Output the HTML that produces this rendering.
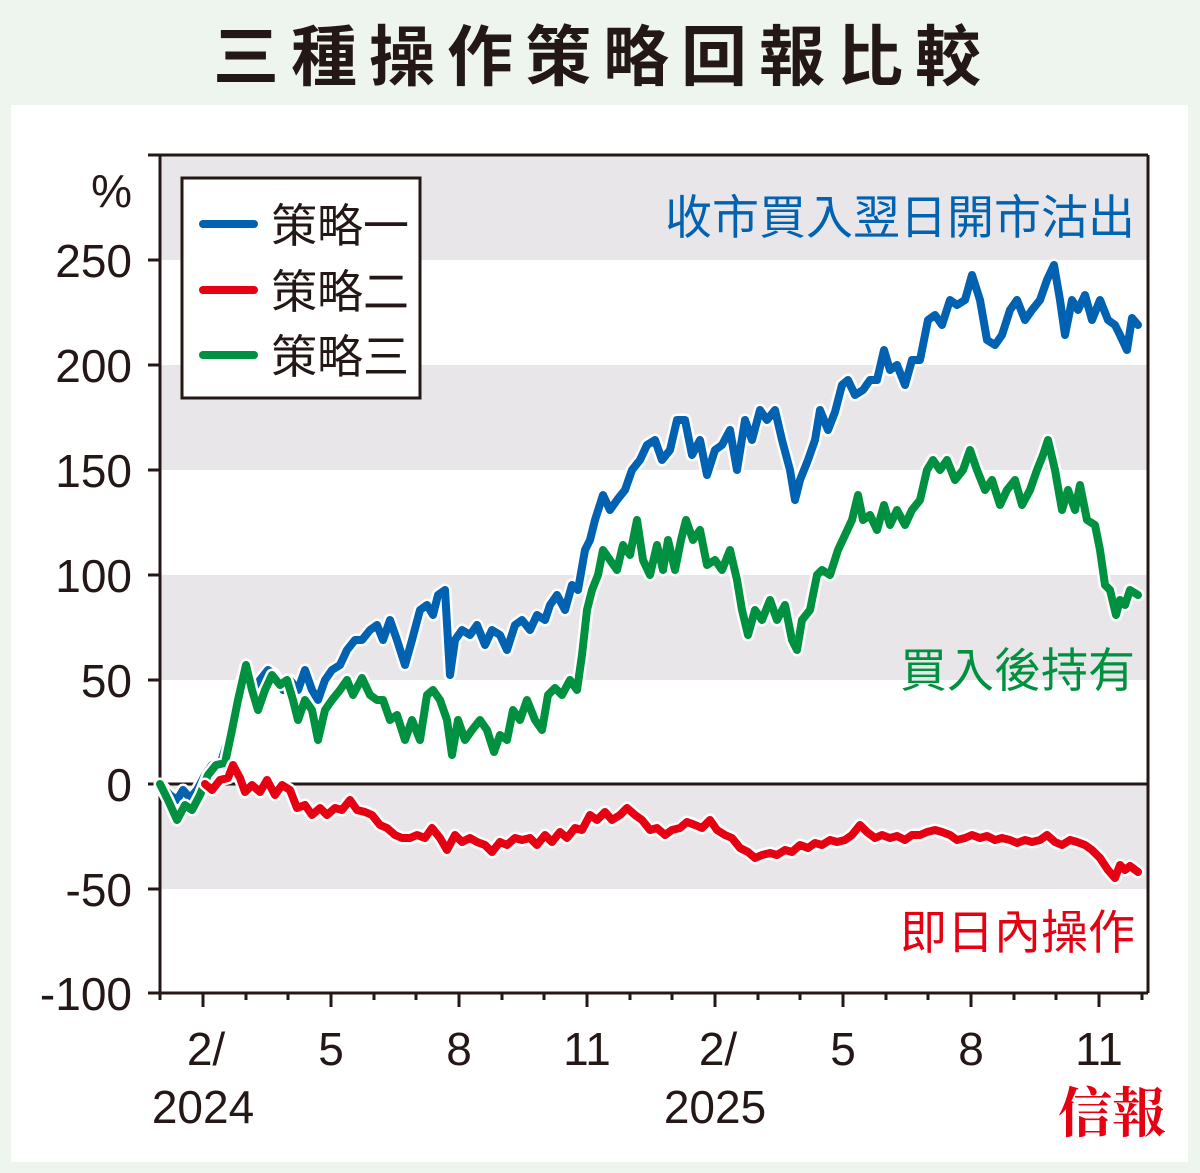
<!DOCTYPE html>
<html><head><meta charset="utf-8"><style>
body{margin:0;background:#eef4ee;}
svg{display:block}
</style></head><body>
<svg width="1200" height="1173" viewBox="0 0 1200 1173" xmlns="http://www.w3.org/2000/svg">
<rect x="0" y="0" width="1200" height="1173" fill="#eef4ee"/>
<rect x="11" y="105" width="1177" height="1057" fill="#fff"/>
<text x="603" y="80" text-anchor="middle" font-family="Liberation Sans, Noto Sans CJK TC, sans-serif" font-size="66" font-weight="bold" letter-spacing="12" fill="#231815">三種操作策略回報比較</text>
<g fill="#e8e6e8">
<rect x="160" y="155" width="988" height="105"/>
<rect x="160" y="365" width="988" height="105"/>
<rect x="160" y="575" width="988" height="105"/>
<rect x="160" y="784" width="988" height="105"/>
</g>
<g stroke="#231815" stroke-width="3" fill="none">
<line x1="148" y1="155" x2="1148" y2="155"/>
<line x1="160" y1="155" x2="160" y2="993"/>
<line x1="1148" y1="155" x2="1148" y2="993"/>
<line x1="148" y1="993" x2="1148" y2="993"/>
<line x1="160" y1="784" x2="1148" y2="784"/>
<line x1="148" y1="260" x2="160" y2="260"/><line x1="148" y1="365" x2="160" y2="365"/><line x1="148" y1="470" x2="160" y2="470"/><line x1="148" y1="575" x2="160" y2="575"/><line x1="148" y1="680" x2="160" y2="680"/><line x1="148" y1="784" x2="160" y2="784"/><line x1="148" y1="889" x2="160" y2="889"/>
<path d="M160 993v7M203 993v14M246 993v7M288 993v7M331 993v14M374 993v7M416 993v7M459 993v14M502 993v7M544 993v7M587 993v14M630 993v7M672 993v7M715 993v14M758 993v7M800 993v7M843 993v14M886 993v7M928 993v7M971 993v14M1014 993v7M1056 993v7M1099 993v14M1142 993v7"/>
</g>
<g font-family="Liberation Sans, sans-serif" font-size="46" fill="#231815" text-anchor="end">
<text x="132" y="207">%</text>
<text x="132" y="277">250</text><text x="132" y="382">200</text><text x="132" y="487">150</text><text x="132" y="592">100</text><text x="132" y="697">50</text><text x="132" y="801">0</text><text x="132" y="906">-50</text><text x="132" y="1010">-100</text>
</g>
<g font-family="Liberation Sans, sans-serif" font-size="46" fill="#231815" text-anchor="middle">
<text x="206" y="1065">2/</text><text x="331" y="1065">5</text><text x="459" y="1065">8</text><text x="587" y="1065">11</text><text x="718" y="1065">2/</text><text x="843" y="1065">5</text><text x="971" y="1065">8</text><text x="1099" y="1065">11</text>
<text x="203" y="1123">2024</text><text x="715" y="1123">2025</text>
</g>
<defs>
<polyline id="b" points="160,784 170,795 177,800 183,790 190,798 197,790 205,775 212,765 220,765 228,740 236,700 245,670 252,690 260,680 268,670 275,675 283,690 290,680 298,690 305,670 312,690 318,700 325,680 332,670 340,665 347,650 355,640 362,640 370,630 377,625 383,640 390,620 397,640 405,665 412,640 420,610 427,605 433,615 438,595 445,590 450,675 455,640 462,630 470,635 477,625 485,645 492,630 500,635 507,650 515,625 522,620 530,630 537,615 545,620 550,605 557,595 565,610 572,585 578,590 585,550 590,540 595,520 603,495 610,510 617,500 625,490 632,470 640,460 647,445 655,440 662,460 670,450 677,420 685,420 692,455 700,440 707,475 715,450 722,445 730,430 737,470 745,420 752,440 760,410 767,420 775,410 782,440 790,470 795,500 800,480 808,460 815,440 820,410 828,430 835,412 842,385 848,380 855,395 863,390 870,380 877,380 884,350 890,370 897,365 905,385 912,360 920,360 928,320 935,315 942,325 950,300 957,305 965,300 972,275 980,300 987,340 995,345 1002,335 1010,310 1017,300 1025,320 1032,310 1040,300 1047,280 1054,265 1060,300 1065,335 1072,300 1078,310 1085,295 1092,320 1100,300 1108,320 1115,325 1120,335 1127,350 1132,318 1138,325"/>
<polyline id="g" points="160,784 168,800 177,820 185,805 192,810 200,795 208,775 216,765 225,763 232,730 238,700 246,665 252,690 258,710 265,690 272,675 280,685 287,680 293,700 298,720 305,700 312,710 318,740 325,710 332,700 340,690 347,680 353,695 362,678 370,695 377,700 383,700 390,720 397,715 405,740 412,720 420,740 427,695 433,690 440,700 447,720 452,755 458,720 465,740 472,730 480,720 487,730 494,752 500,735 507,740 513,710 520,720 527,700 535,720 542,730 548,695 555,688 562,695 570,680 577,690 582,655 587,610 592,590 598,575 603,550 610,560 617,570 623,545 630,555 637,520 643,560 650,575 657,545 663,570 668,540 675,570 681,540 686,520 693,540 700,530 707,565 715,560 722,570 730,550 737,580 742,610 748,635 755,610 762,620 770,600 777,620 785,605 792,640 797,650 802,620 810,610 817,575 822,570 830,575 838,550 845,535 852,520 858,495 863,520 870,515 877,530 884,505 890,525 897,510 905,525 912,510 920,500 927,470 933,460 940,470 947,460 955,480 963,470 970,450 977,470 985,490 992,480 1000,505 1007,490 1015,480 1022,505 1030,490 1037,470 1043,455 1048,440 1055,470 1062,510 1068,490 1075,510 1080,485 1087,520 1095,525 1100,550 1105,585 1110,590 1116,615 1120,600 1125,605 1130,590 1138,595"/>
<polyline id="r" points="205,784 212,790 220,780 228,778 233,765 240,778 245,792 252,785 260,792 267,780 275,795 282,785 290,790 297,808 305,805 312,815 320,808 327,815 335,808 342,810 350,800 357,810 365,812 372,815 380,825 387,828 395,835 402,838 410,838 417,835 425,838 432,828 440,838 447,850 455,835 462,842 470,838 477,842 485,845 492,852 500,842 507,845 515,838 522,840 530,838 537,845 545,835 552,842 560,832 567,838 575,828 582,830 590,815 597,820 605,812 612,820 620,815 627,808 635,815 642,820 650,830 657,828 665,835 672,830 680,828 687,822 695,825 702,828 710,820 717,830 725,835 732,838 740,848 748,852 755,858 762,855 770,853 777,855 785,850 792,852 800,845 808,848 815,843 822,845 830,840 837,842 845,840 852,835 860,825 867,832 875,838 882,835 890,838 897,836 905,840 912,835 920,835 927,832 935,830 942,832 950,835 957,840 965,838 972,835 980,838 987,836 995,840 1002,838 1010,840 1017,843 1025,840 1032,842 1040,840 1047,835 1055,842 1062,845 1070,840 1077,842 1085,845 1092,850 1100,858 1108,870 1115,878 1120,865 1125,870 1130,866 1138,872"/>
</defs>
<g fill="none" stroke-linejoin="round" stroke-linecap="round">
<use href="#b" stroke="#fff" stroke-width="13"/><use href="#b" stroke="#0062b1" stroke-width="8"/>
<use href="#g" stroke="#fff" stroke-width="13"/><use href="#g" stroke="#009140" stroke-width="8"/>
<use href="#r" stroke="#fff" stroke-width="13"/><use href="#r" stroke="#e60012" stroke-width="8"/>
</g>
<rect x="182" y="178" width="238" height="220" fill="#fff" stroke="#231815" stroke-width="3"/>
<g stroke-width="8" stroke-linecap="round">
<line x1="203" y1="224" x2="254" y2="224" stroke="#0062b1"/>
<line x1="203" y1="290" x2="254" y2="290" stroke="#e60012"/>
<line x1="203" y1="355" x2="254" y2="355" stroke="#009140"/>
</g>
<g font-family="Liberation Sans, Noto Sans CJK TC, sans-serif" font-size="46" fill="#231815">
<text x="271" y="242">策略一</text><text x="271" y="308">策略二</text><text x="271" y="373">策略三</text>
</g>
<g font-family="Liberation Sans, Noto Sans CJK TC, sans-serif" font-size="47" text-anchor="end">
<text x="1135" y="234" fill="#0062b1">收市買入翌日開市沽出</text>
<text x="1135" y="687" fill="#009140">買入後持有</text>
<text x="1135" y="949" fill="#e60012">即日內操作</text>
</g>
<text x="1112" y="1132" text-anchor="middle" font-family="Noto Serif CJK SC, serif" font-weight="bold" font-size="54" fill="#e60012">信報</text>
</svg>
</body></html>
